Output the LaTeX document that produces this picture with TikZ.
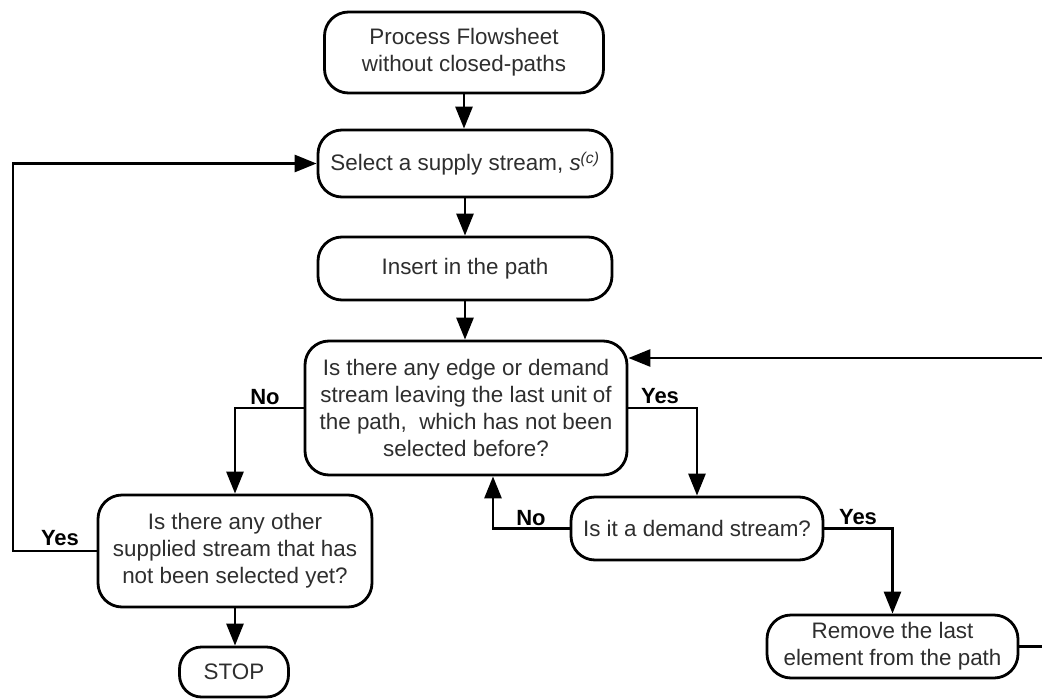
\documentclass[tikz,border=0pt]{standalone}
\usepackage{fontspec}
\setmainfont{Liberation Sans}
\usetikzlibrary{arrows.meta}
\begin{document}
\begin{tikzpicture}[x=1pt,y=-1pt,
  every node/.style={font=\fontsize{22.4}{27}\selectfont, text=black!82},
  proc/.style={draw=black, line width=2.8pt, rounded corners=24pt, align=center,
    inner sep=0pt, fill=white},
  lbl/.style={font=\fontsize{22}{26}\selectfont\bfseries, text=black},
  flow/.style={draw=black, line width=2.8pt, -{Triangle[length=22pt,width=17pt]}},
  wire/.style={draw=black, line width=2.8pt}]
  \useasboundingbox (0,0) rectangle (1042,699);
  \clip (0,0) rectangle (1042,699);

  % boxes of the procedure
  \node[proc, minimum width=279pt, minimum height=81pt] (start) at (464,52.5)
    {Process Flowsheet\\without closed-paths};
  \node[proc, minimum width=294pt, minimum height=67pt] (select) at (465,163.5)
    {Select a supply stream, \textit{s}\textsuperscript{\textit{(c)}}};
  \node[proc, minimum width=294pt, minimum height=63pt] (insert) at (465,268.5)
    {Insert in the path};
  \node[proc, minimum width=322pt, minimum height=134pt] (edge) at (466,408)
    {Is there any edge or demand\\stream leaving the last unit of\\the path,\ \ which has not been\\selected before?};
  \node[proc, minimum width=252pt, minimum height=63pt] (demand) at (697,528.5)
    {Is it a demand stream?};
  \node[proc, minimum width=274pt, minimum height=112pt] (other) at (235,551)
    {Is there any other\\supplied stream that has\\not been selected yet?};
  \node[proc, minimum width=109pt, minimum height=50pt, rounded corners=22pt] (stop) at (234,672)
    {STOP};
  \node[proc, minimum width=251pt, minimum height=63pt] (remove) at (892.5,646.5)
    {Remove the last\\element from the path};

  % corner points of the loops
  \coordinate (lc) at (13,551);
  \coordinate (rc) at (1062,646.5);

  % main column
  \draw[flow] (start.south) -- (start.south |- select.north);
  \draw[flow] (select.south) -- (select.south |- insert.north);
  \draw[flow] (insert.south) -- (insert.south |- edge.north);

  % branches of the first question
  \draw[flow] (edge.west) -| (other.north);
  \draw[flow] (edge.east) -| (demand.north);
  \node[lbl] (no1) at (265,397) {No};
  \node[lbl] (yes1) at (660,396) {Yes};

  % branches of the demand question
  \draw[flow] (demand.west) -| ([xshift=27pt]edge.south);
  \draw[flow] (demand.east) -| (remove.north);
  \node[lbl] (no2) at (531,518) {No};
  \node[lbl] (yes2) at (858,517) {Yes};

  % return after removing the last element
  \draw[flow] (remove.east) -- (rc) |- ([yshift=50pt]edge.east);

  % other supplied streams
  \draw[flow] (other.west) -- (lc) |- (select.west);
  \node[lbl] (yes3) at (60,538) {Yes};
  \draw[flow] (other.south) -- (other.south |- stop.north);
\end{tikzpicture}
\end{document}
